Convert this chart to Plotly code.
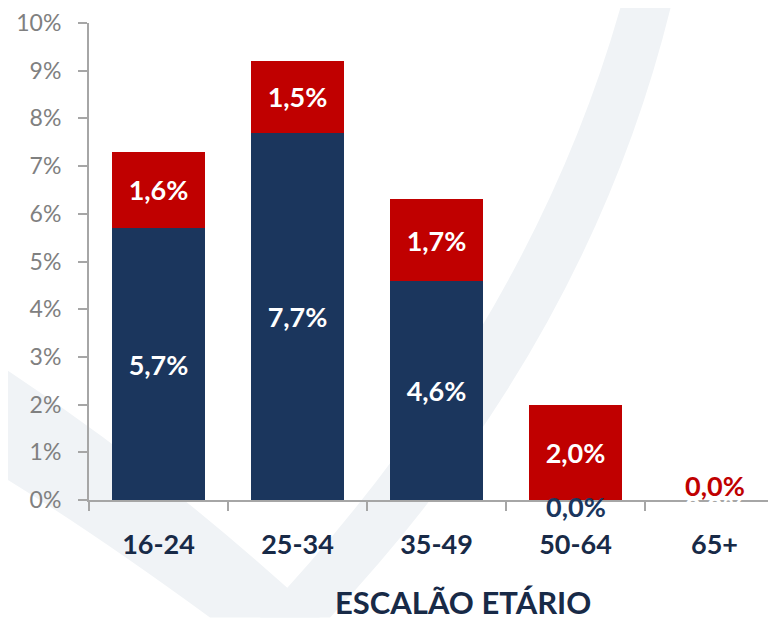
import plotly.graph_objects as go

# 데이터
categories = ['16-24', '25-34', '35-49', '50-64', '65+']
navy_values = [5.7, 7.7, 4.6, 0.0, 0.0]
red_values = [1.6, 1.5, 1.7, 2.0, 0.0]
y_ticks = [0, 1, 2, 3, 4, 5, 6, 7, 8, 9, 10]

NAVY = '#1b365d'
RED = '#c00000'
AXIS_GRAY = '#a6a6a6'
LABEL_NAVY = '#182a47'
WATERMARK = '#f0f3f6'
FONT = 'Lato'

# 페이지 기본 여백(8px) 보정
L, T, B = 81, 13, 126
PLOT_W, PLOT_H = 776 - L, 618 - T - B


def px2paper(sx, sy):
    """화면 좌표 -> paper 좌표 (배경 워터마크용)"""
    return (sx - 8 - L) / PLOT_W, (618 - B - (sy - 8)) / PLOT_H


def band_path(pts):
    out = []
    for cmd, *xy in pts:
        coords = []
        for j in range(0, len(xy), 2):
            px, py = px2paper(xy[j], xy[j + 1])
            coords.append(f'{px:.4f},{py:.4f}')
        out.append(cmd + ' ' + ' '.join(coords))
    return ' '.join(out) + ' Z'


fig = go.Figure()

# 배경 워터마크 (희미한 곡선 띠)
fig.add_shape(type='path', xref='paper', yref='paper', layer='below', line_width=0,
              fillcolor=WATERMARK,
              path=band_path([('M', 672, 0), ('Q', 590, 340, 330, 618),
                              ('L', 260, 618), ('Q', 530, 330, 622, 0)]))
fig.add_shape(type='path', xref='paper', yref='paper', layer='below', line_width=0,
              fillcolor=WATERMARK,
              path=band_path([('M', 0, 365), ('Q', 160, 470, 320, 618),
                              ('L', 210, 618), ('Q', 90, 530, 0, 475)]))

fig.add_trace(go.Bar(
    x=categories, y=navy_values, marker_color=NAVY, marker_line_width=0,
    texttemplate='%{y:.1f}%', textposition='inside', insidetextanchor='middle',
    textangle=0, constraintext='none',
    textfont=dict(family=FONT, size=27, color='white', weight='bold'),
))
fig.add_trace(go.Bar(
    x=categories, y=red_values, marker_color=RED, marker_line_width=0,
    texttemplate='%{y:.1f}%', textposition='inside', insidetextanchor='middle',
    textangle=0, constraintext='none',
    textfont=dict(family=FONT, size=27, color='white', weight='bold'),
))

# 0값 라벨 (막대 안에 표시되지 않는 값)
for cat, nv, rv in zip(categories, navy_values, red_values):
    if nv == 0:
        col = 'white' if rv == 0 else NAVY
        fig.add_annotation(x=cat, y=0, text=f'{nv:.1f}%'.replace('.', ','),
                           showarrow=False, yshift=-6,
                           font=dict(family=FONT, size=27, color=col, weight='bold'))
    if rv == 0:
        fig.add_annotation(x=cat, y=nv, text=f'{rv:.1f}%'.replace('.', ','),
                           showarrow=False, yshift=15,
                           font=dict(family=FONT, size=27, color=RED, weight='bold'))

fig.add_annotation(x=(463 - 8 - L) / PLOT_W, y=-(602 - 500) / PLOT_H,
                   xref='paper', yref='paper', xanchor='center', yanchor='middle',
                   text='ESCALÃO ETÁRIO', showarrow=False,
                   font=dict(family=FONT, size=31, color=LABEL_NAVY, weight='bold'))

fig.update_layout(
    width=776, height=618,
    barmode='stack', bargap=0.335,
    showlegend=False,
    separators=',.',
    plot_bgcolor='rgba(0,0,0,0)', paper_bgcolor='white',
    margin=dict(l=L, r=0, t=T, b=B),
)

fig.update_xaxes(
    range=[-0.5, 4.5], showline=True, linecolor=AXIS_GRAY, linewidth=2,
    ticks='outside', tickson='boundaries', ticklen=9, tickcolor=AXIS_GRAY, tickwidth=2,
    tickfont=dict(family=FONT, size=27, color=LABEL_NAVY, weight='bold'),
    ticklabelstandoff=20, showgrid=False,
)
fig.update_yaxes(
    range=[0, 10], tickmode='array', tickvals=y_ticks,
    ticktext=[f'{v}%' for v in y_ticks], showline=True,
    linecolor=AXIS_GRAY, linewidth=2, ticks='outside', ticklen=9,
    tickcolor=AXIS_GRAY, tickwidth=2, showgrid=False, zeroline=False,
    tickfont=dict(family=FONT, size=23, color='#808080'),
    ticklabelstandoff=12, ticklabeloverflow='allow',
)

fig.write_html('out.html')
